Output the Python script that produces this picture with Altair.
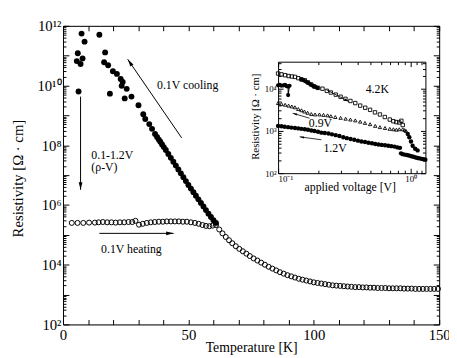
import altair as alt
import pandas as pd

W, H = 383, 304
FONT = "Liberation Serif"

# ---------------- main panel: resistivity vs temperature ----------------
cool_T = [5.5, 5.9, 6.2, 7.0, 7.4, 7.8, 8.6, 14.5, 16.4, 16.8, 18.0, 18.7, 19.9, 21.5, 23.0, 23.4,
          23.8, 24.6, 25.4, 27.3, 30.1, 32.0, 32.8, 34.4, 35.5, 36.7,
          37.5, 38.2, 38.8, 39.5, 40.2, 41.0, 42.0, 43.0, 44.0, 45.0, 46.0, 47.0, 48.0, 49.0, 50.0,
          51.0, 52.0, 53.0, 54.0, 55.0, 56.0, 57.0, 58.0, 59.0, 60.0, 61.0]
cool_logR = [10.82, 11.08, 9.80, 10.72, 11.74, 10.91, 11.47, 11.70, 10.78, 11.11, 10.68, 9.73, 10.48,
             10.39, 10.22, 9.99, 10.12, 9.57, 9.89, 9.63, 9.34, 9.04, 8.88, 8.71, 8.55, 8.38,
             8.28, 8.19, 8.12, 8.03, 7.94, 7.84, 7.71, 7.58, 7.45, 7.32, 7.19, 7.06, 6.93, 6.80, 6.67,
             6.55, 6.43, 6.31, 6.19, 6.07, 5.95, 5.83, 5.71, 5.60, 5.49, 5.40]

heat_T = [3.5, 5.8, 8.1, 10.4, 12.7,
          14.2, 15.9, 17.6, 19.3, 21.0, 22.7, 24.4, 26.1,
          27.6, 28.9, 30.3, 31.8, 33.4, 35.0, 36.6, 38.2,
          39.8, 41.4, 43.0, 44.6, 46.2, 47.8, 49.4, 51.0,
          52.6, 54.1, 55.6, 57.0, 58.4, 59.7, 61.0,
          62.3, 63.6, 64.9, 66.2, 67.5, 68.9, 70.3, 71.7, 73.1, 74.5,
          76.0, 77.5, 79.0, 80.5, 82.0, 83.5, 85.0, 86.5, 88.0, 89.5,
          91.0, 92.5, 94.0, 95.5, 97.0, 98.5, 100.0, 101.5, 103.0, 104.5,
          106.0, 107.5, 109.0, 110.5, 112.0, 113.5, 115.0, 116.5, 118.0, 119.5,
          121.0, 122.5, 124.0, 125.5, 127.0, 128.5, 130.0, 131.5, 133.0, 134.5,
          136.0, 137.5, 139.0, 140.5, 142.0, 143.5, 145.0, 146.5, 148.0, 149.5]
heat_logR = [5.40, 5.40, 5.40, 5.41, 5.41,
             5.42, 5.43, 5.42, 5.42, 5.41, 5.42, 5.42, 5.43,
             5.43, 5.47, 5.34, 5.37, 5.40, 5.42, 5.43, 5.44,
             5.44, 5.45, 5.45, 5.45, 5.45, 5.44, 5.44, 5.42,
             5.40, 5.37, 5.33, 5.30, 5.29, 5.31, 5.33,
             5.18, 5.05, 4.93, 4.82, 4.72, 4.62, 4.53, 4.45, 4.37, 4.29,
             4.21, 4.14, 4.07, 4.00, 3.93, 3.87, 3.81, 3.75, 3.70, 3.65,
             3.61, 3.57, 3.53, 3.50, 3.47, 3.44, 3.41, 3.39, 3.37, 3.35,
             3.33, 3.31, 3.30, 3.29, 3.28, 3.27, 3.26, 3.25, 3.25, 3.24,
             3.24, 3.23, 3.23, 3.22, 3.22, 3.22, 3.21, 3.21, 3.21, 3.21,
             3.20, 3.20, 3.20, 3.19, 3.19, 3.19, 3.19, 3.19, 3.19, 3.19]

main_text = ["0.1V cooling", "0.1-1.2V", "(ρ-V)", "0.1V heating"]
main_text_T = [37.5, 11.3, 11.3, 15.2]
main_text_logR = [10.03, 7.68, 7.28, 4.53]

# arrows: tail (T1, logR1) -> head (T2, logR2)
arr_T1 = [47.3, 7.0, 14.5]
arr_logR1 = [8.25, 9.63, 5.05]
arr_T2 = [25.8, 7.0, 44.1]
arr_logR2 = [10.88, 6.51, 5.05]
arr_angle = [325.5, 180, 90]

main_y_ticks_major = [1e2, 1e4, 1e6, 1e8, 1e10, 1e12]
main_x_labels = [0, 50, 100, 150]
main_x_ticks = list(range(0, 151, 10))

# ---------------- inset: resistivity vs applied voltage ----------------
sq_V = [0.100, 0.106, 0.113, 0.120, 0.127, 0.134, 0.142, 0.150, 0.159, 0.168, 0.178, 0.188, 0.200,
        0.216, 0.233, 0.250, 0.272, 0.296, 0.322, 0.351, 0.382, 0.416, 0.454, 0.494, 0.538, 0.586,
        0.638, 0.695, 0.740, 0.779, 0.820, 0.850, 0.871]
sq_logR = [4.36, 4.34, 4.32, 4.30, 4.29, 4.28, 4.25, 4.22, 4.20, 4.15, 4.10, 4.05, 4.02,
           4.00, 3.95, 3.91, 3.86, 3.81, 3.76, 3.71, 3.66, 3.60, 3.55, 3.50, 3.44, 3.39,
           3.33, 3.27, 3.23, 3.21, 3.20, 3.24, 3.14]

tri_V = [0.100, 0.106, 0.113, 0.120, 0.127, 0.134, 0.142, 0.150, 0.158, 0.167, 0.178, 0.190, 0.205,
         0.220, 0.236, 0.250, 0.270, 0.296, 0.323, 0.351, 0.382, 0.416, 0.452, 0.494, 0.540, 0.586,
         0.640, 0.695, 0.740, 0.780, 0.820, 0.871, 0.900, 0.922]
tri_logR = [3.66, 3.64, 3.62, 3.60, 3.58, 3.56, 3.52, 3.49, 3.46, 3.43, 3.40, 3.39, 3.39,
            3.38, 3.37, 3.35, 3.33, 3.31, 3.29, 3.27, 3.25, 3.22, 3.19, 3.16, 3.12, 3.09,
            3.07, 3.05, 3.04, 3.03, 3.04, 3.04, 3.02, 3.00]

dot_V = [0.100, 0.106, 0.112, 0.119, 0.126, 0.134, 0.142, 0.150, 0.159, 0.168, 0.178, 0.188, 0.200,
         0.212, 0.225, 0.240, 0.255, 0.272, 0.290, 0.310, 0.330, 0.352, 0.375, 0.400, 0.425, 0.452,
         0.480, 0.510, 0.540, 0.572, 0.605, 0.640, 0.677, 0.715, 0.755, 0.795, 0.830,
         0.845, 0.870, 0.900, 0.935, 0.970, 1.01, 1.05, 1.09, 1.13, 1.17, 1.21, 1.25, 1.29,
         0.950, 0.976, 1.005, 1.034, 1.080, 1.127]
dot_logR = [3.12, 3.11, 3.10, 3.09, 3.08, 3.07, 3.06, 3.05, 3.04, 3.03, 3.01, 3.00, 2.98,
            2.96, 2.95, 2.94, 2.92, 2.90, 2.88, 2.85, 2.83, 2.81, 2.79, 2.77, 2.75, 2.74,
            2.72, 2.71, 2.69, 2.68, 2.67, 2.66, 2.65, 2.64, 2.63, 2.61, 2.60,
            2.47, 2.45, 2.44, 2.43, 2.42, 2.40, 2.39, 2.37, 2.36, 2.35, 2.34, 2.33, 2.32,
            2.93, 2.85, 2.75, 2.65, 2.58, 2.54]

# filled points at the start of the 4.2K sweep (joined), and a dense filled cluster
fa_V = [0.100, 0.103, 0.106, 0.110, 0.113, 0.116, 0.119, 0.119, 0.122]
fa_logR = [4.08, 4.09, 4.07, 4.08, 4.09, 4.06, 4.05, 3.85, 4.07]
fb_V = [0.150, 0.156, 0.162, 0.168, 0.174, 0.180, 0.186, 0.192, 0.198]
fb_logR = [4.22, 4.20, 4.17, 4.14, 4.11, 4.08, 4.06, 4.04, 4.02]

inset_text = ["4.2K", "0.9V", "1.2V"]
inset_text_V = [0.56, 0.2085, 0.269]
inset_text_logR = [4.00, 3.186, 2.605]

iarr_V1 = [0.2307, 0.1726, 0.212]
iarr_logR1 = [3.977, 3.302, 2.791]
iarr_V2 = [0.341, 0.129, 0.1456]
iarr_logR2 = [3.698, 3.419, 2.860]
iarr_angle = [117.6, 286.4, 277.8]

inset_x_domain = [0.1, 10 ** 0.111]
inset_y_domain = [1e2, 10 ** 4.64]
inset_x_range = [219, 369]
inset_y_range = [150, 36.5]

# ---------------- helpers ----------------
def pw(lst):
    return [10 ** v for v in lst]

def s_mx():
    return alt.Scale(domain=[0, 150], nice=False, zero=False)

def s_my():
    return alt.Scale(type="log", domain=[1e2, 1e12], nice=False)

def s_ix():
    return alt.Scale(type="log", domain=inset_x_domain, range=inset_x_range, nice=False)

def s_iy():
    return alt.Scale(type="log", domain=inset_y_domain, range=inset_y_range, nice=False)

def X(f, s):
    return alt.X(f, type="quantitative", scale=s, axis=None)

def Y(f, s):
    return alt.Y(f, type="quantitative", scale=s, axis=None)

ARROW = "M0,0L-0.4,1.6L0.4,1.6Z"
LOGTEST = "abs(log(datum.value)/LN10 - round(log(datum.value)/LN10)) < 0.001"

def tick_axis(orient, offset, values, major, minor, log=True):
    size = {"condition": {"test": LOGTEST, "value": major}, "value": minor} if log else major
    return alt.Axis(orient=orient, offset=offset, values=values, labels=False, title=None,
                    grid=False, domain=True, domainColor="black", domainWidth=1,
                    ticks=True, tickColor="black", tickWidth=1, tickSize=size)

def axis_layer(channel, values, scale, axis):
    df = pd.DataFrame({"v": values})
    if channel == "x":
        enc = {"x": alt.X("v:Q", scale=scale, axis=axis)}
    else:
        enc = {"y": alt.Y("v:Q", scale=scale, axis=axis)}
    return alt.Chart(df).mark_point(opacity=0).encode(**enc)

def log_ticks(lo, hi):
    out = []
    e = lo
    while e < hi:
        for m in range(1, 10):
            out.append(m * 10 ** e)
        e += 1
    out.append(10 ** hi)
    return out

sup = {0: "⁰", 1: "¹", 2: "²", 3: "³", 4: "⁴", 5: "⁵", 6: "⁶", 7: "⁷", 8: "⁸", 9: "⁹",
       10: "¹⁰", 11: "¹¹", 12: "¹²", -1: "⁻¹"}

def pow_expr(exps):
    e = "round(log(datum.value)/LN10)"
    expr = "''"
    for k in exps:
        expr = f"{e} == {k} ? '10{sup[k]}' : ({expr})"
    return expr

# ---------------- main layers ----------------
cool_df = pd.DataFrame({"T": cool_T, "R": pw(cool_logR)})
heat_df = pd.DataFrame({"T": heat_T, "R": pw(heat_logR)})

heat = alt.Chart(heat_df).mark_point(shape="circle", filled=False, color="black",
                                     strokeWidth=1, size=26, opacity=1).encode(
    x=X("T", s_mx()), y=Y("R", s_my()))
cool = alt.Chart(cool_df).mark_circle(color="black", size=36, opacity=1).encode(
    x=X("T", s_mx()), y=Y("R", s_my()))

mtxt_df = pd.DataFrame({"T": main_text_T, "R": pw(main_text_logR), "s": main_text})
mtxt = alt.Chart(mtxt_df).mark_text(font=FONT, fontSize=12, align="left", baseline="middle",
                                   color="black").encode(
    x=X("T", s_mx()), y=Y("R", s_my()), text="s:N")

marr_df = pd.DataFrame({"T1": arr_T1, "R1": pw(arr_logR1), "T2": arr_T2, "R2": pw(arr_logR2),
                        "a": arr_angle})
mrule = alt.Chart(marr_df).mark_rule(color="black", strokeWidth=1).encode(
    x=X("T1", s_mx()), y=Y("R1", s_my()), x2="T2", y2="R2")
mhead = alt.Chart(marr_df).mark_point(shape=ARROW, filled=True, color="black", size=90,
                                      opacity=1, strokeWidth=0).encode(
    x=X("T2", s_mx()), y=Y("R2", s_my()), angle=alt.Angle("a:Q", scale=None))

main_y_lab = axis_layer("y", main_y_ticks_major, s_my(), alt.Axis(
    orient="left", offset=0, values=main_y_ticks_major, labelExpr=pow_expr([2, 4, 6, 8, 10, 12]),
    ticks=False, tickSize=0, domain=False, grid=False, labelFont=FONT, labelFontSize=15,
    labelColor="black", labelPadding=2, labelOverlap=False,
    title="Resistivity [Ω · cm]", titleFont=FONT, titleFontSize=15, titleFontWeight="normal",
    titleColor="black", titleX=-46, titleY=155, titleAngle=270, titleAlign="center",
    titleBaseline="middle"))
main_y_l = axis_layer("y", log_ticks(2, 12), s_my(), tick_axis("right", -W, log_ticks(2, 12), 6, 3))
main_y_r = axis_layer("y", log_ticks(2, 12), s_my(), tick_axis("left", -W, log_ticks(2, 12), 6, 3))

main_x_lab = axis_layer("x", main_x_labels, s_mx(), alt.Axis(
    orient="bottom", offset=0, values=main_x_labels, ticks=False, tickSize=0, domain=False,
    grid=False, labelFont=FONT, labelFontSize=15, labelColor="black", labelPadding=3,
    labelFlush=False, labelOverlap=False,
    title="Temperature [K]", titleFont=FONT, titleFontSize=14, titleFontWeight="normal",
    titleColor="black", titleX=W / 2, titleY=24, titleAlign="center", titleBaseline="middle"))
main_x_b = axis_layer("x", main_x_ticks, s_mx(), tick_axis("top", -H, main_x_ticks, 5, 5, log=False))
main_x_t = axis_layer("x", main_x_ticks, s_mx(), tick_axis("bottom", -H, main_x_ticks, 5, 5, log=False))

# ---------------- inset layers ----------------
sq_df = pd.DataFrame({"V": sq_V, "R": pw(sq_logR)})
tri_df = pd.DataFrame({"V": tri_V, "R": pw(tri_logR)})
dot_df = pd.DataFrame({"V": dot_V, "R": pw(dot_logR)})
fa_df = pd.DataFrame({"V": fa_V, "R": pw(fa_logR), "o": list(range(len(fa_V)))})
fb_df = pd.DataFrame({"V": fb_V, "R": pw(fb_logR)})

isq = alt.Chart(sq_df).mark_point(shape="square", filled=False, color="black", strokeWidth=0.9,
                                  size=12, opacity=1).encode(x=X("V", s_ix()), y=Y("R", s_iy()))
itri = alt.Chart(tri_df).mark_point(shape="triangle-up", filled=False, color="black",
                                    strokeWidth=0.9, size=12, opacity=1).encode(
    x=X("V", s_ix()), y=Y("R", s_iy()))
idot = alt.Chart(dot_df).mark_circle(color="black", size=20, opacity=1).encode(
    x=X("V", s_ix()), y=Y("R", s_iy()))
ifa_line = alt.Chart(fa_df).mark_line(color="black", strokeWidth=1).encode(
    x=X("V", s_ix()), y=Y("R", s_iy()), order="o:Q")
ifa = alt.Chart(fa_df).mark_circle(color="black", size=18, opacity=1).encode(
    x=X("V", s_ix()), y=Y("R", s_iy()))
ifb = alt.Chart(fb_df).mark_circle(color="black", size=18, opacity=1).encode(
    x=X("V", s_ix()), y=Y("R", s_iy()))

itxt_df = pd.DataFrame({"V": inset_text_V, "R": pw(inset_text_logR), "s": inset_text})
itxt = alt.Chart(itxt_df).mark_text(font=FONT, fontSize=12, align="center", baseline="middle",
                                   color="black").encode(
    x=X("V", s_ix()), y=Y("R", s_iy()), text="s:N")

iarr_df = pd.DataFrame({"V1": iarr_V1, "R1": pw(iarr_logR1), "V2": iarr_V2, "R2": pw(iarr_logR2),
                        "a": iarr_angle})
irule = alt.Chart(iarr_df).mark_rule(color="black", strokeWidth=0.8).encode(
    x=X("V1", s_ix()), y=Y("R1", s_iy()), x2="V2", y2="R2")
ihead = alt.Chart(iarr_df).mark_point(shape=ARROW, filled=True, color="black", size=30,
                                      opacity=1, strokeWidth=0).encode(
    x=X("V2", s_ix()), y=Y("R2", s_iy()), angle=alt.Angle("a:Q", scale=None))

iy_major = [1e2, 1e3, 1e4]
iy_ticks = log_ticks(2, 4) + [2e4, 3e4, 4e4]
ix_major = [0.1, 1.0]
ix_ticks = [0.1, 0.2, 0.3, 0.4, 0.5, 0.6, 0.7, 0.8, 0.9, 1.0, 1.1, 1.2]

in_y_lab = axis_layer("y", iy_major, s_iy(), alt.Axis(
    orient="left", offset=-inset_x_range[0], values=iy_major, labelExpr=pow_expr([2, 3, 4]),
    ticks=False, tickSize=0, domain=False, grid=False, labelFont=FONT, labelFontSize=9,
    labelColor="black", labelPadding=2, labelOverlap=False,
    title="Resistivity [Ω · cm]", titleFont=FONT, titleFontSize=11, titleFontWeight="normal",
    titleColor="black", titleX=-23, titleY=92, titleAngle=270, titleAlign="center",
    titleBaseline="middle"))
in_y_l = axis_layer("y", iy_ticks, s_iy(),
                    tick_axis("right", inset_x_range[0] - W, iy_ticks, 5, 3))
in_y_r = axis_layer("y", iy_ticks, s_iy(),
                    tick_axis("left", -inset_x_range[1], iy_ticks, 5, 3))

in_x_lab = axis_layer("x", ix_major, s_ix(), alt.Axis(
    orient="bottom", offset=inset_y_range[0] - H, values=ix_major, labelExpr=pow_expr([-1, 0]),
    ticks=False, tickSize=0, domain=False, grid=False, labelFont=FONT, labelFontSize=9,
    labelColor="black", labelPadding=1, labelFlush=False, labelOverlap=False,
    labelAlign={"condition": {"test": "datum.value < 0.5", "value": "left"}, "value": "center"},
    title="applied voltage [V]", titleFont=FONT, titleFontSize=12, titleFontWeight="normal",
    titleColor="black", titleX=292, titleY=14, titleAlign="center", titleBaseline="middle"))
in_x_b = axis_layer("x", ix_ticks, s_ix(), tick_axis("top", -inset_y_range[0], ix_ticks, 5, 3))
in_x_t = axis_layer("x", ix_ticks, s_ix(),
                    tick_axis("bottom", inset_y_range[1] - H, ix_ticks, 5, 3))

chart = alt.layer(
    main_y_lab, main_y_l, main_y_r, main_x_lab, main_x_b, main_x_t,
    in_y_lab, in_y_l, in_y_r, in_x_lab, in_x_b, in_x_t,
    heat, cool, mtxt, mrule, mhead,
    idot, itri, isq, ifa_line, ifa, ifb, itxt, irule, ihead,
).resolve_scale(x="independent", y="independent").properties(
    width=W, height=H,
    padding={"left": 56, "top": 15, "right": 10, "bottom": 31},
    autosize=alt.AutoSizeParams(type="none"),
).configure_view(stroke=None).configure(background="white", font=FONT).configure_axis(
    labelFont=FONT, titleFont=FONT).configure_text(font=FONT)

chart.save("out.html", embed_options={"renderer": "svg", "actions": False})
